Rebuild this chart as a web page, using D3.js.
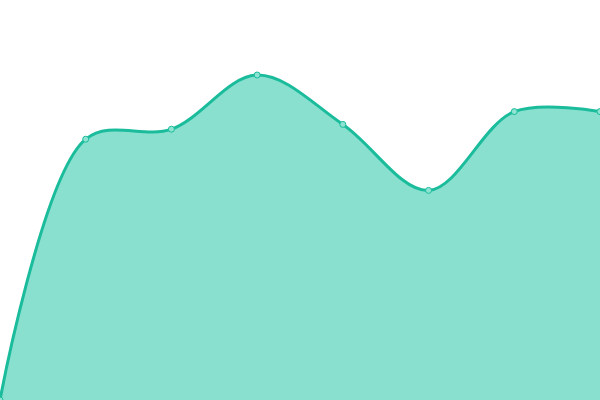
<!DOCTYPE html>
<html>
<head>
<meta charset="utf-8">
<script src="https://cdn.jsdelivr.net/npm/d3@7"></script>
<style>
  html, body { margin: 0; padding: 0; background: #fff; }
  svg { display: block; }
</style>
</head>
<body>
<script>
const categories = ['1', '2', '3', '4', '5', '6', '7', '8'];
const values = [0, 65.2, 67.7, 81.25, 68.9, 52.4, 72.1, 72.1];

const width = 600;
const height = 400;

const data = categories.map((c, i) => ({ c: c, v: values[i] }));

const svg = d3.select('body')
  .append('svg')
  .attr('width', width)
  .attr('height', height);

const xScale = d3.scalePoint()
  .domain(categories)
  .range([0, width]);

const yScale = d3.scaleLinear()
  .domain([0, 100])
  .range([height, 0]);

const curve = d3.curveCatmullRom.alpha(0.5);

const area = d3.area()
  .x(d => xScale(d.c))
  .y0(height)
  .y1(d => yScale(d.v))
  .curve(curve);

const line = d3.line()
  .x(d => xScale(d.c))
  .y(d => yScale(d.v))
  .curve(curve);

svg.append('path')
  .datum(data)
  .attr('d', area)
  .attr('fill', '#89e0cf');

svg.append('path')
  .datum(data)
  .attr('d', line)
  .attr('fill', 'none')
  .attr('stroke', '#1abc9c')
  .attr('stroke-width', 3);

svg.selectAll('circle')
  .data(data)
  .enter()
  .append('circle')
  .attr('cx', d => xScale(d.c))
  .attr('cy', d => yScale(d.v))
  .attr('r', 3)
  .attr('fill', '#8ee3d2')
  .attr('stroke', '#1abc9c')
  .attr('stroke-width', 1);
</script>
</body>
</html>
